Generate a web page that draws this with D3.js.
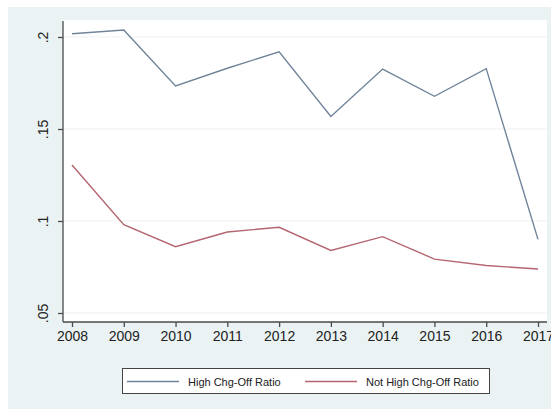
<!DOCTYPE html>
<html>
<head>
<meta charset="utf-8">
<script src="https://cdn.jsdelivr.net/npm/d3@7"></script>
<style>
  body { margin: 0; background: #fff; }
  text { font-family: "Liberation Sans", Arial, sans-serif; fill: #222; }
</style>
</head>
<body>
<div class="chart"></div>
<script>
// data
var years = [2008, 2009, 2010, 2011, 2012, 2013, 2014, 2015, 2016, 2017];
var highRatio = [0.2018, 0.2038, 0.1734, 0.1830, 0.1920, 0.1568, 0.1826, 0.1678, 0.1828, 0.0900];
var notHighRatio = [0.1304, 0.0980, 0.0860, 0.0940, 0.0966, 0.0840, 0.0915, 0.0793, 0.0758, 0.0739];
var yTicks = [0.05, 0.1, 0.15, 0.2];
var yTickLabels = [".05", ".1", ".15", ".2"];
var seriesNames = ["High Chg-Off Ratio", "Not High Chg-Off Ratio"];
var seriesColors = ["#71849a", "#b4656f"];

var svgWidth = 551;
var svgHeight = 409;

var svg = d3.select(".chart")
  .append("svg")
  .attr("width", svgWidth)
  .attr("height", svgHeight);

// graph region background
svg.append("rect")
  .attr("x", 8).attr("y", 7)
  .attr("width", svgWidth - 8).attr("height", 402)
  .attr("fill", "#eaf2f3");

// plot region
var plot = { left: 63, right: 547, top: 20, bottom: 322 };
svg.append("rect")
  .attr("x", plot.left).attr("y", plot.top)
  .attr("width", plot.right - plot.left).attr("height", plot.bottom - plot.top)
  .attr("fill", "#fff");

var x = d3.scaleLinear().domain([2008, 2017]).range([72, 538]);
var y = d3.scaleLinear().domain([0.05, 0.2]).range([313, 37]);

// grid lines
svg.append("g").selectAll("line")
  .data(yTicks)
  .enter()
  .append("line")
  .attr("x1", plot.left).attr("x2", plot.right)
  .attr("y1", d => y(d)).attr("y2", d => y(d))
  .attr("stroke", "#eef2f3")
  .attr("stroke-width", 1);

// y axis
var leftAxis = d3.axisLeft(y)
  .tickValues(yTicks)
  .tickSize(5)
  .tickFormat((d, i) => yTickLabels[i]);

var yAxis = svg.append("g")
  .attr("transform", `translate(${plot.left}, 0)`)
  .call(leftAxis);
yAxis.select(".domain").attr("d", `M0,${plot.top + 1}V${plot.bottom}`);
yAxis.selectAll("line, path").attr("stroke", "#4a4a4a").attr("stroke-width", 1.3);
yAxis.selectAll("text")
  .attr("transform", "rotate(-90)")
  .attr("x", 0)
  .attr("y", -15)
  .attr("dy", 0)
  .attr("text-anchor", "middle")
  .style("font-size", "14px")
  .style("font-family", "Liberation Sans, Arial, sans-serif")
  .attr("fill", "#222");

// x axis
var bottomAxis = d3.axisBottom(x)
  .tickValues(years)
  .tickSize(5)
  .tickFormat(d3.format("d"));

var xAxis = svg.append("g")
  .attr("transform", `translate(0, ${plot.bottom})`)
  .call(bottomAxis);
xAxis.select(".domain").attr("d", `M${plot.left},0H${plot.right}`);
xAxis.selectAll("line, path").attr("stroke", "#4a4a4a").attr("stroke-width", 1.3);
xAxis.selectAll("text")
  .attr("y", 9)
  .attr("dy", "0.71em")
  .style("font-size", "14px")
  .style("font-family", "Liberation Sans, Arial, sans-serif")
  .attr("fill", "#222");

// lines
var line = d3.line()
  .x((d, i) => x(years[i]))
  .y(d => y(d));

[highRatio, notHighRatio].forEach(function(series, i) {
  svg.append("path")
    .datum(series)
    .attr("d", line)
    .attr("fill", "none")
    .attr("stroke", seriesColors[i])
    .attr("stroke-width", 1.4);
});

// legend
var legend = svg.append("g");
legend.append("rect")
  .attr("x", 122.5).attr("y", 368.5)
  .attr("width", 367).attr("height", 25)
  .attr("fill", "#fff")
  .attr("stroke", "#444")
  .attr("stroke-width", 1);

var legendX = [127, 305];
seriesNames.forEach(function(name, i) {
  legend.append("line")
    .attr("x1", legendX[i]).attr("x2", legendX[i] + 52)
    .attr("y1", 381.5).attr("y2", 381.5)
    .attr("stroke", seriesColors[i])
    .attr("stroke-width", 1.4);
  legend.append("text")
    .attr("x", legendX[i] + 61)
    .attr("y", 385.5)
    .style("font-size", "11px")
    .text(name);
});
</script>
</body>
</html>
